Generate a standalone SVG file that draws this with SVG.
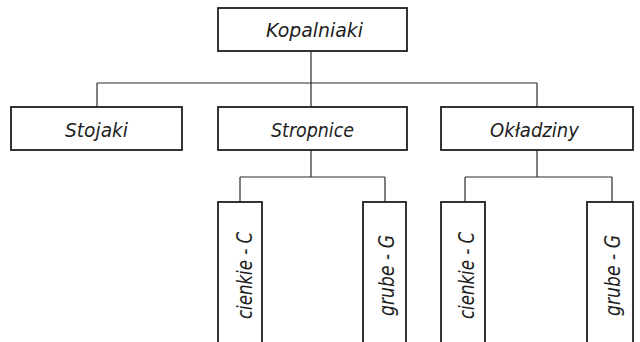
<svg xmlns="http://www.w3.org/2000/svg" width="640" height="342" viewBox="0 0 640 342">
<style>
.box{fill:none;stroke:#1e1e1e;stroke-width:1.8}
.ln{fill:none;stroke:#2a2a2a;stroke-width:1.2}
.t{font-family:"DejaVu Sans Condensed","DejaVu Sans",sans-serif;font-style:oblique;fill:#1e1e1e;font-size:20px;text-anchor:middle}
.v{font-size:21px}
</style>
<rect width="640" height="342" fill="#ffffff"/>
<g id="connectors">
<path class="ln" d="M311 51V107M97 83H537M97 83V107M537 83V107"/>
<path class="ln" d="M311 150V177M240 177H385M240 177V202M385 177V202"/>
<path class="ln" d="M537 150V177M465 177H612M465 177V202M612 177V202"/>
</g>
<g id="kopalniaki"><rect class="box" x="218" y="8" width="189" height="43"/><text class="t" x="314.5" y="37" textLength="97" lengthAdjust="spacingAndGlyphs">Kopalniaki</text></g>
<g id="stojaki"><rect class="box" x="11" y="107" width="171" height="43"/><text class="t" x="96.5" y="137" textLength="63" lengthAdjust="spacingAndGlyphs">Stojaki</text></g>
<g id="stropnice"><rect class="box" x="218" y="107" width="189" height="43"/><text class="t" x="312.5" y="137" textLength="83" lengthAdjust="spacingAndGlyphs">Stropnice</text></g>
<g id="okladziny"><rect class="box" x="441" y="107" width="192" height="43"/><text class="t" x="534.5" y="137" textLength="89" lengthAdjust="spacingAndGlyphs">Okładziny</text></g>
<g id="stropnice-cienkie"><rect class="box" x="218" y="202" width="44" height="160"/><text class="t v" transform="translate(252 275.5) rotate(-90)" textLength="87" lengthAdjust="spacingAndGlyphs">cienkie - C</text></g>
<g id="stropnice-grube"><rect class="box" x="363" y="202" width="43" height="160"/><text class="t v" transform="translate(394 275.5) rotate(-90)" textLength="81" lengthAdjust="spacingAndGlyphs">grube - G</text></g>
<g id="okladziny-cienkie"><rect class="box" x="441" y="202" width="44" height="160"/><text class="t v" transform="translate(474 275.5) rotate(-90)" textLength="87" lengthAdjust="spacingAndGlyphs">cienkie - C</text></g>
<g id="okladziny-grube"><rect class="box" x="587" y="202" width="46" height="160"/><text class="t v" transform="translate(620 275.5) rotate(-90)" textLength="81" lengthAdjust="spacingAndGlyphs">grube - G</text></g>
</svg>
